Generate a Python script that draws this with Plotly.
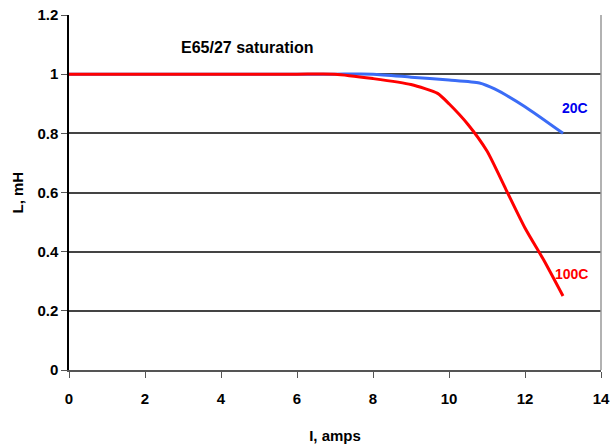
import plotly.graph_objects as go

# Data
current_20c = [0, 2, 4, 6, 7, 8, 9, 10, 10.8, 11.2, 12, 13]
l_20c = [1.0, 1.0, 1.0, 1.0, 1.0, 1.0, 0.99, 0.98, 0.97, 0.95, 0.89, 0.80]

current_100c = [0, 2, 4, 6, 7, 8, 9, 9.7, 10, 10.5, 11, 11.5, 12, 12.5, 13]
l_100c = [1.0, 1.0, 1.0, 1.0, 1.0, 0.985, 0.965, 0.935, 0.90, 0.83, 0.74, 0.61, 0.48, 0.37, 0.25]

x_ticks = [0, 2, 4, 6, 8, 10, 12, 14]
y_ticks = [0, 0.2, 0.4, 0.6, 0.8, 1.0, 1.2]
y_tick_text = ["0", "0.2", "0.4", "0.6", "0.8", "1", "1.2"]

FONT = "Liberation Sans, Arial, sans-serif"

W, H = 613, 445
ML, MR, MT, MB = 69, 12, 15, 75
PW, PH = W - ML - MR, H - MT - MB

fig = go.Figure()
fig.add_trace(go.Scatter(x=current_20c, y=l_20c, mode="lines",
                         line=dict(color="#3b6cf6", width=3, shape="spline", smoothing=0.6),
                         name="20C"))
fig.add_trace(go.Scatter(x=current_100c, y=l_100c, mode="lines",
                         line=dict(color="#ff0000", width=3, shape="spline", smoothing=0.6),
                         name="100C"))

fig.update_layout(
    width=W, height=H,
    margin=dict(l=ML, r=MR, t=MT, b=MB),
    paper_bgcolor="white", plot_bgcolor="white",
    showlegend=False,
    font=dict(family=FONT, size=14, color="black", weight="bold"),
)
fig.update_xaxes(range=[0, 14], tickvals=x_ticks, ticks="outside", ticklen=6, automargin=False,
                 tickcolor="#555555", showline=True, linecolor="#555555", linewidth=2,
                 showgrid=False, zeroline=False, ticklabeloverflow="allow",
                 tickfont=dict(family=FONT, size=15, color="black", weight="bold"),
                 ticklabelstandoff=8,
                 title=dict(text="I, amps", font=dict(family=FONT, size=15, weight="bold"), standoff=24))
fig.update_yaxes(range=[0, 1.2], tickvals=y_ticks, ticktext=y_tick_text, ticks="outside", ticklen=6,
                 automargin=False, ticklabeloverflow="allow",
                 tickcolor="#555555", showline=True, linecolor="black", linewidth=1.5,
                 showgrid=True, gridcolor="#444444", gridwidth=1.5, zeroline=False,
                 tickfont=dict(family=FONT, size=15, color="black", weight="bold"))

# right border of plot area
fig.add_shape(type="line", xref="paper", yref="paper", x0=1, x1=1, y0=0, y1=1,
              line=dict(color="#999999", width=1.5))

fig.add_annotation(text="E65/27 saturation", xref="paper", yref="paper",
                   x=(247 - ML) / PW, y=(MT + PH - 48) / PH, xanchor="center", yanchor="middle",
                   showarrow=False,
                   font=dict(family=FONT, size=16, color="black", weight="bold"))
fig.add_annotation(text="20C", x=13.32, y=0.887, showarrow=False,
                   font=dict(family=FONT, size=14, color="#0000ee", weight="bold"))
fig.add_annotation(text="100C", x=13.22, y=0.325, showarrow=False,
                   font=dict(family=FONT, size=14, color="#ff0000", weight="bold"))
fig.add_annotation(text="L, mH", xref="paper", yref="paper",
                   x=(17 - ML) / PW, y=0.5, xanchor="center", yanchor="middle",
                   showarrow=False, textangle=-90,
                   font=dict(family=FONT, size=15, color="black", weight="bold"))

# remove the default page margin so the figure sits at the window's top-left corner
fig.write_html("out.html",
               config={"displayModeBar": False},
               post_script="document.body.style.margin='0';document.body.style.overflow='hidden';")
